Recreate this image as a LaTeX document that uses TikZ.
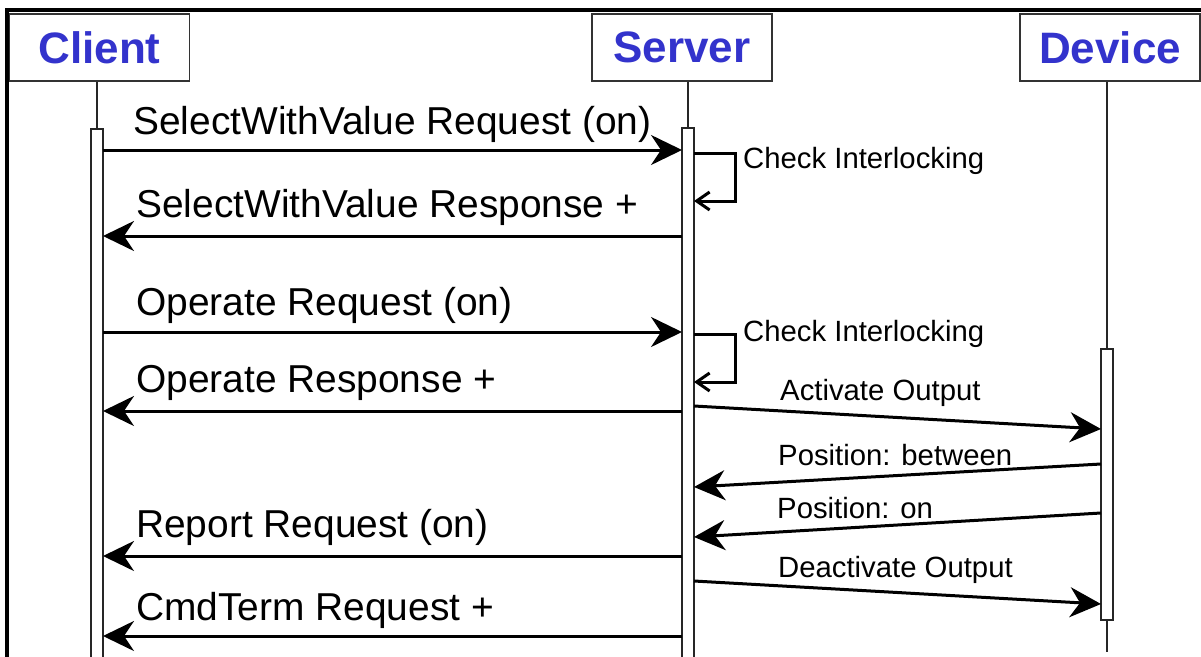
\documentclass[tikz,border=0pt]{standalone}
\usepackage{fontspec}
\setmainfont{Liberation Sans}
\usepackage{xcolor}
\usepackage{tikz}
\usetikzlibrary{arrows.meta,positioning,calc}

\definecolor{actorblue}{RGB}{51,51,204}

\begin{document}
\begin{tikzpicture}[x=1pt, y=-1pt,
    actor/.style={draw=black!80, line width=1.4pt, fill=white,
        minimum width=180pt, minimum height=67pt, inner sep=0pt,
        font=\fontsize{44}{44}\selectfont\bfseries, text=actorblue},
    lifeline/.style={line width=1.3pt, black!85},
    bar/.style={draw=black!85, line width=1.3pt, fill=white},
    msg/.style={line width=3pt, -{Stealth[length=31pt, width=30pt, inset=10pt]}},
    selfmsg/.style={line width=3pt, -{Straight Barb[length=13pt, width=18pt, line width=3pt]}},
    biglabel/.style={anchor=base west, inner sep=0pt, font=\fontsize{38.9}{40}\selectfont},
    smalllabel/.style={anchor=base west, inner sep=0pt, font=\fontsize{29.3}{30}\selectfont}]
\useasboundingbox (0,0) rectangle (1201,656);
\clip (0,0) rectangle (1201,656);

% outer frame
\draw[line width=3.5pt] (7,10) rectangle (1240,700);

% actors
\node[actor] (client) at (99.5,47.5) {Client};
\node[actor] (server) at (682,47.5) {Server};
\node[actor] (device) at (1110,47.5) {Device};

% lifelines and activation bars
\coordinate (clife) at (97,129);
\coordinate (slife) at (688,128);
\coordinate (dlife) at (1107,652);
\draw[lifeline] (client.south -| clife) -- (clife);
\draw[lifeline] (server.south -| slife) -- (slife);
\draw[lifeline] (device.south -| dlife) -- (dlife);
\draw[bar] (91,129) rectangle (103,680);
\draw[bar] (682,128) rectangle (694,680);
\draw[bar] (1101,349) rectangle (1113,620);

% client <-> server messages
\foreach \n/\y in {1/150, 2/236, 3/332, 4/411, 5/556, 6/636} {
    \coordinate (c\n) at (103,\y);
    \coordinate (s\n) at (682,\y);
}
\draw[msg] (c1) -- (s1);
\draw[msg] (s2) -- (c2);
\draw[msg] (c3) -- (s3);
\draw[msg] (s4) -- (c4);
\draw[msg] (s5) -- (c5);
\draw[msg] (s6) -- (c6);

\node[biglabel] (l1) at (133,134) {SelectWithValue Request (on)};
\node[biglabel] (l2) at (136,217) {SelectWithValue Response +};
\node[biglabel] (l3) at (136,315) {Operate Request (on)};
\node[biglabel] (l4) at (136,392) {Operate Response +};
\node[biglabel] (l5) at (136,537) {Report Request (on)};
\node[biglabel] (l6) at (136,620) {CmdTerm Request +};

% interlocking checks on the server
\coordinate (ck1a) at (694,153);
\coordinate (ck1b) at (694,201);
\coordinate (ck2a) at (694,334);
\coordinate (ck2b) at (694,382);
\draw[selfmsg] (ck1a) -- ++(41,0) |- (ck1b);
\draw[selfmsg] (ck2a) -- ++(41,0) |- (ck2b);
\node[smalllabel] (k1) at (743,168) {Check Interlocking};
\node[smalllabel] (k2) at (743,341) {Check Interlocking};

% server <-> device messages
\coordinate (sa) at (694,406);  \coordinate (da) at (1101,429);
\coordinate (db) at (1101,464); \coordinate (sb) at (694,487);
\coordinate (dc) at (1101,513); \coordinate (sc) at (694,537);
\coordinate (sd) at (694,581);  \coordinate (dd) at (1101,604);
\draw[msg] (sa) -- (da);
\draw[msg] (db) -- (sb);
\draw[msg] (dc) -- (sc);
\draw[msg] (sd) -- (dd);
\node[smalllabel] (p1) at (780,400) {Activate Output};
\node[smalllabel] (p2) at (778,465) {Position: between};
\node[smalllabel] (p3) at (777,518) {Position: on};
\node[smalllabel] (p4) at (778,577) {Deactivate Output};
\end{tikzpicture}
\end{document}
